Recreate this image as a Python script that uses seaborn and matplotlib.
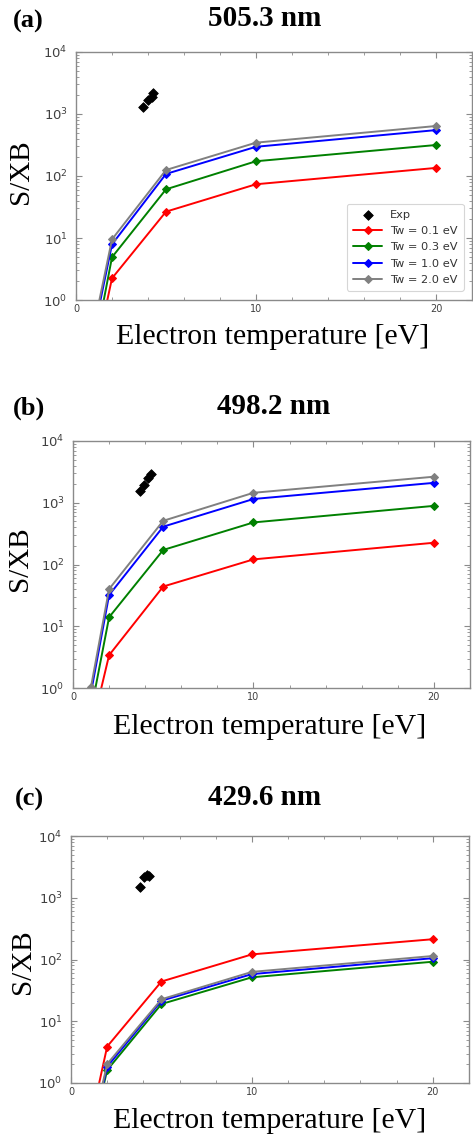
import numpy as np
import pandas as pd
import matplotlib
matplotlib.use("Agg")
import matplotlib.pyplot as plt
import seaborn as sns
from matplotlib.ticker import MultipleLocator, LogLocator, NullFormatter

# electron temperatures used in the model [eV]
temps = [1, 2, 5, 10, 20]
tw_labels = ["Tw = 0.1 eV", "Tw = 0.3 eV", "Tw = 1.0 eV", "Tw = 2.0 eV"]
tw_colors = ["#ff0000", "#008000", "#0000ff", "#808080"]

# 505.3 nm
a_tw01 = [0.10, 2.24, 26.6, 73.6, 135]
a_tw03 = [0.15, 4.9, 61, 173, 316]
a_tw10 = [0.31, 7.9, 108, 296, 550]
a_tw20 = [0.38, 9.5, 125, 345, 640]
a_exp_te = [3.7, 4.0, 4.2, 4.3]
a_exp_sxb = [1300, 1700, 1900, 2150]

# 498.2 nm
b_tw01 = [0.20, 3.4, 44, 121, 225]
b_tw03 = [0.43, 14, 172, 480, 890]
b_tw10 = [0.85, 32, 410, 1150, 2100]
b_tw20 = [1.05, 40, 510, 1450, 2640]
b_exp_te = [3.74, 3.96, 4.14, 4.33]
b_exp_sxb = [1550, 1950, 2500, 2900]

# 429.6 nm
c_tw01 = [0.18, 3.9, 44, 121, 213]
c_tw03 = [0.09, 1.62, 19, 51.5, 92]
c_tw10 = [0.10, 1.84, 21.5, 58, 105]
c_tw20 = [0.11, 2.03, 22.7, 63, 114]
c_exp_te = [3.8, 4.06, 4.21, 4.3]
c_exp_sxb = [1510, 2150, 2340, 2250]

panels = [
    ("(a)", "505.3 nm", [a_tw01, a_tw03, a_tw10, a_tw20], a_exp_te, a_exp_sxb),
    ("(b)", "498.2 nm", [b_tw01, b_tw03, b_tw10, b_tw20], b_exp_te, b_exp_sxb),
    ("(c)", "429.6 nm", [c_tw01, c_tw03, c_tw10, c_tw20], c_exp_te, c_exp_sxb),
]

sns.set_style("ticks")
plt.rcParams["font.family"] = ["DejaVu Sans"]
plt.rcParams["text.color"] = "black"

W, H = 473, 1135
fig = plt.figure(figsize=(W / 100, H / 100), dpi=100)

# axes boxes in pixels: left, top, right, bottom
boxes = [(76, 52, 472, 300), (73, 441, 470, 688), (71, 836, 469, 1083)]
# text positions in pixels
tag_pos = [(28, 21), (29, 408), (29.5, 799)]
title_pos = [(265, 19), (274, 406), (265, 797.5)]
ylab_pos = [(21, 172), (20, 558.5), (22.7, 961.5)]
xlab_pos = [(273, 337), (270, 727.5), (270, 1120.5)]

serif = ["Liberation Serif", "DejaVu Serif"]
frame_col = "#8a8a8a"
tick_col = "#404040"

for i, (tag, title, series, exp_te, exp_sxb) in enumerate(panels):
    l, t, r, b = boxes[i]
    ax = fig.add_axes([l / W, 1 - b / H, (r - l) / W, (b - t) / H])

    long = pd.DataFrame({
        "Te": np.tile(temps, len(series)),
        "SXB": np.concatenate(series),
        "Tw": np.repeat(tw_labels, len(temps)),
    })

    sns.scatterplot(x=exp_te, y=exp_sxb, ax=ax, color="black", marker="D",
                    s=24, edgecolor="black", linewidth=0.6, label="Exp",
                    zorder=5)
    for lab, col in zip(tw_labels, tw_colors):
        sub = long[long["Tw"] == lab]
        sns.lineplot(data=sub, x="Te", y="SXB", ax=ax, color=col, marker="D",
                     markersize=4.5, markeredgecolor=col, linewidth=1.4,
                     label=lab, sort=False)

    ax.set_yscale("log")
    ax.set_ylim(1, 1e4)
    ax.set_xlim(0, 22)
    ax.set_xticks([0, 10, 20])
    ax.xaxis.set_minor_locator(MultipleLocator(2))
    ax.yaxis.set_major_locator(LogLocator(base=10, numticks=10))
    ax.yaxis.set_minor_locator(LogLocator(base=10, subs=np.arange(2, 10), numticks=20))
    ax.yaxis.set_minor_formatter(NullFormatter())
    ax.set_xlabel("")
    ax.set_ylabel("")

    ax.tick_params(which="both", direction="in", top=True, right=True,
                   color=frame_col)
    ax.tick_params(which="major", length=4, width=0.8)
    ax.tick_params(which="minor", length=2, width=0.6)
    ax.tick_params(axis="y", labelsize=9.5, labelcolor=tick_col, pad=6)
    ax.tick_params(axis="x", labelsize=7, labelcolor=tick_col, pad=3)
    for sp in ax.spines.values():
        sp.set_color(frame_col)
        sp.set_linewidth(1.0)

    if i == 0:
        leg = ax.legend(loc="lower right", fontsize=8.2, frameon=True,
                        handlelength=2.6, borderpad=0.5, labelspacing=0.55,
                        handletextpad=0.7, bbox_to_anchor=(0.993, 0.015))
        leg.get_frame().set_edgecolor("#cccccc")
        leg.get_frame().set_linewidth(0.8)
        for txt in leg.get_texts():
            txt.set_color("#333333")
    else:
        ax.get_legend().remove()

    fig.text(tag_pos[i][0] / W, 1 - tag_pos[i][1] / H, tag, family=serif,
             weight="bold", fontsize=19, ha="center", va="center")
    fig.text(title_pos[i][0] / W, 1 - title_pos[i][1] / H, title,
             family=serif, weight="bold", fontsize=21, ha="center",
             va="center")
    fig.text(ylab_pos[i][0] / W, 1 - ylab_pos[i][1] / H, "S/XB",
             family=serif, fontsize=21, rotation=90, ha="center",
             va="center")
    fig.text(xlab_pos[i][0] / W, 1 - xlab_pos[i][1] / H,
             "Electron temperature [eV]", family=serif, fontsize=21.5,
             ha="center", va="center")

fig.savefig("out.png", dpi=100)
